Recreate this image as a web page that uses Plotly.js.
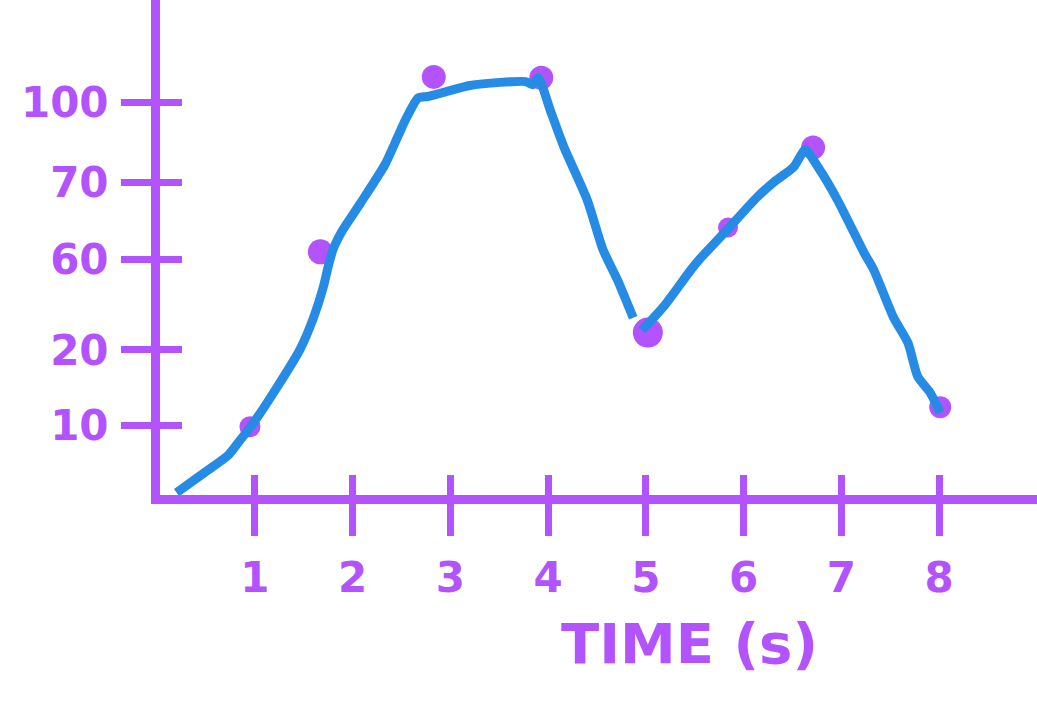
<!DOCTYPE html>
<html>
<head>
<meta charset="utf-8">
<script src="https://cdn.plot.ly/plotly-3.0.1.min.js"></script>
<style>
  html, body { margin: 0; padding: 0; background: #ffffff; }
  #chart { width: 1037px; height: 710px; }
</style>
</head>
<body>
<div id="chart"></div>
<script>
// Tick labels (y axis is a hand-drawn, non-linear ordinal scale)
const yTickLabels = ["10", "20", "60", "70", "100"];
const yTickPos = [0.89, 1.85, 3.0, 3.98, 5.0];
const xTickVals = [1, 2, 3, 4, 5, 6, 7, 8];
const xTickLabels = ["1", "2", "3", "4", "5", "6", "7", "8"];
const xTitle = "TIME (s)";

// Purple data points (time, position on drawn y scale)
const pointTime = [0.95, 1.67, 2.83, 3.93, 5.02, 5.84, 6.71, 8.01];
const pointValue = [0.87, 3.10, 5.33, 5.32, 2.07, 3.41, 4.43, 1.12];
const pointSize = [21, 25, 24, 24, 30, 20, 24, 22];

// Blue hand-drawn curve (null = pen lifted)
const lineTime = [0.20, 0.49, 0.73, 0.85, 0.97, 1.21, 1.46, 1.60, 1.70, 1.75, 1.80, 1.90, 2.08, 2.33, 2.47, 2.54, 2.67, 2.77, 2.95, 3.20, 3.51, 3.77, 3.84, 3.90, 4.02, 4.16, 4.40, 4.56, 4.71, 4.87, null,
  4.96, 5.18, 5.46, 5.56, 5.83, 6.14, 6.31, 6.51, 6.63, 6.76, 6.96, 7.23, 7.33, 7.53, 7.68, 7.78, 7.91, 8.01];
const lineValue = [0.03, 0.29, 0.51, 0.70, 0.89, 1.34, 1.85, 2.26, 2.65, 2.91, 3.13, 3.38, 3.72, 4.21, 4.59, 4.78, 5.06, 5.08, 5.14, 5.22, 5.26, 5.27, 5.23, 5.32, 4.91, 4.44, 3.76, 3.13, 2.74, 2.26, null,
  2.10, 2.40, 2.87, 3.02, 3.38, 3.80, 3.99, 4.18, 4.40, 4.18, 3.76, 3.09, 2.87, 2.27, 1.94, 1.51, 1.30, 1.05];

const PURPLE = "#b353fd";
const BLUE = "#268be4";
const FONT = "DejaVu Sans";

const xRange = [0.03, 9.0];
const yRange = [0, 6.31];

const traces = [
  {
    x: pointTime, y: pointValue, type: "scatter", mode: "markers",
    marker: { color: PURPLE, size: pointSize, opacity: 1, line: { width: 0 } },
    opacity: 1,
    cliponaxis: false, hoverinfo: "skip", showlegend: false,
    xaxis: "x", yaxis: "y"
  },
  {
    x: lineTime, y: lineValue, type: "scatter", mode: "lines",
    line: { color: BLUE, width: 9, shape: "spline", smoothing: 0.6 },
    connectgaps: false, cliponaxis: false, hoverinfo: "skip", showlegend: false,
    xaxis: "x2", yaxis: "y2"
  }
];

const layout = {
  width: 1037, height: 710,
  margin: { l: 160, r: 0, t: 0, b: 215 },
  paper_bgcolor: "#ffffff", plot_bgcolor: "#ffffff",
  showlegend: false,
  xaxis: {
    range: xRange, showgrid: false, zeroline: false,
    showline: true, linecolor: PURPLE, linewidth: 9,
    tickmode: "array", tickvals: xTickVals, ticktext: xTickLabels,
    ticks: "outside", ticklen: 32, tickwidth: 7, tickcolor: PURPLE,
    ticklabelstandoff: 6,
    tickfont: { family: FONT, size: 42, color: PURPLE, weight: "bold" },
    fixedrange: true
  },
  yaxis: {
    range: yRange, showgrid: false, zeroline: false,
    showline: true, linecolor: PURPLE, linewidth: 9,
    tickmode: "array", tickvals: yTickPos, ticktext: yTickLabels,
    ticks: "outside", ticklen: 30, tickwidth: 7, tickcolor: PURPLE,
    ticklabelstandoff: 4,
    tickfont: { family: FONT, size: 42, color: PURPLE, weight: "bold" },
    fixedrange: true
  },
  xaxis2: {
    overlaying: "x", anchor: "y2", side: "bottom",
    range: xRange, showgrid: false, zeroline: false, showline: false,
    tickmode: "array", tickvals: xTickVals, showticklabels: false,
    ticks: "inside", ticklen: 20, tickwidth: 7, tickcolor: PURPLE,
    fixedrange: true
  },
  yaxis2: {
    overlaying: "y", anchor: "x2", side: "left",
    range: yRange, showgrid: false, zeroline: false, showline: false,
    tickmode: "array", tickvals: yTickPos, showticklabels: false,
    ticks: "inside", ticklen: 22, tickwidth: 7, tickcolor: PURPLE,
    fixedrange: true
  },
  annotations: [
    {
      text: xTitle, xref: "paper", yref: "paper",
      x: 0.604, y: -0.30, xanchor: "center", yanchor: "middle",
      showarrow: false,
      font: { family: FONT, size: 56, color: PURPLE, weight: "bold" }
    }
  ]
};

Plotly.newPlot("chart", traces, layout, { displayModeBar: false, staticPlot: true });
</script>
</body>
</html>
